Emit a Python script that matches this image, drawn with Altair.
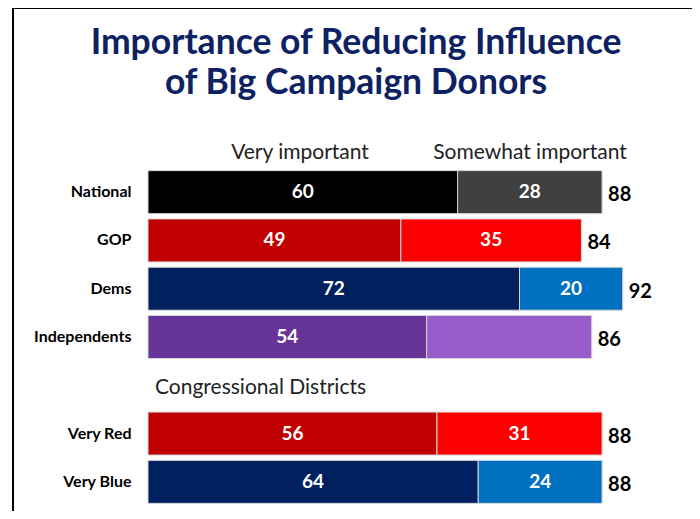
import altair as alt
import pandas as pd

# ---- data ----
categories = ["National", "GOP", "Dems", "Independents", "Very Red", "Very Blue"]
very = [60, 49, 72, 54, 56, 64]
somewhat = [28, 35, 20, 32, 31, 24]
total = [88, 84, 92, 86, 88, 88]
somewhat_labeled = [True, True, True, False, True, True]
very_colors = ["#000000", "#c00000", "#002060", "#663399", "#c00000", "#002060"]
some_colors = ["#404040", "#ff0000", "#0070c0", "#9b5ccb", "#ff0000", "#0070c0"]

row_order = ["National", "GOP", "Dems", "Independents", " ", "Very Red", "Very Blue"]

title_lines = ["Importance of Reducing Influence", "of Big Campaign Donors"]
headers = ["Very important", "Somewhat important"]
group_label = "Congressional Districts"

FONT = "Lato"

rows = []
for i, c in enumerate(categories):
    rows.append(dict(cat=c, seg="Very important", start=0, end=very[i],
                     mid=very[i] / 2, label=str(very[i]), color=very_colors[i]))
    rows.append(dict(cat=c, seg="Somewhat important", start=very[i], end=total[i],
                     mid=(very[i] + total[i]) / 2,
                     label=str(somewhat[i]) if somewhat_labeled[i] else "",
                     color=some_colors[i]))
seg_df = pd.DataFrame(rows)
tot_df = pd.DataFrame(dict(cat=categories, total=total, label=[str(t) for t in total]))

xscale = alt.Scale(domain=[0, 100])
yscale = alt.Scale(domain=row_order, paddingInner=0.11, paddingOuter=0.055)

base = alt.Chart(seg_df)

bars = base.mark_bar(stroke="#d6d6d6", strokeWidth=1).encode(
    x=alt.X("start:Q", scale=xscale, axis=None),
    x2="end:Q",
    y=alt.Y("cat:N", scale=yscale, sort=row_order,
            axis=alt.Axis(title=None, domain=False, ticks=False, labelFont=FONT,
                          labelFontSize=16, labelFontWeight="bold", labelColor="#000000",
                          labelPadding=17)),
    color=alt.Color("color:N", scale=None),
)

seg_text = base.mark_text(font=FONT, fontSize=19, fontWeight="bold", color="white",
                          baseline="middle").encode(
    x=alt.X("mid:Q", scale=xscale),
    y=alt.Y("cat:N", scale=yscale, sort=row_order),
    text="label:N",
)

tot_text = alt.Chart(tot_df).mark_text(font=FONT, fontSize=20, fontWeight="bold",
                                       color="#000000", align="left", baseline="middle",
                                       dx=6, dy=3).encode(
    x=alt.X("total:Q", scale=xscale),
    y=alt.Y("cat:N", scale=yscale, sort=row_order),
    text="label:N",
)

hdr_df = pd.DataFrame(dict(t=headers, px=[152, 382]))
hdr = alt.Chart(hdr_df).mark_text(font=FONT, fontSize=21, color="#222222",
                                  baseline="middle").encode(
    x=alt.X("px:Q", scale=None), y=alt.value(-15), text="t:N")

grp_df = pd.DataFrame(dict(t=[group_label], cat=[" "]))
grp = alt.Chart(grp_df).mark_text(font=FONT, fontSize=21, color="#222222",
                                  align="left", baseline="middle", dy=3).encode(
    x=alt.value(7), y=alt.Y("cat:N", scale=yscale, sort=row_order), text="t:N")

ttl_df = pd.DataFrame(dict(t=title_lines, py=[-125, -85]))
ttl = alt.Chart(ttl_df).mark_text(font=FONT, fontSize=35.5, fontWeight="bold",
                                  color="#0d2163", baseline="middle").encode(
    x=alt.value(208), y=alt.Y("py:Q", scale=None), text="t:N")

frame_left = alt.Chart(pd.DataFrame({"a": [0]})).mark_rule(color="#000000", strokeWidth=2).encode(
    x=alt.value(-135), y=alt.value(-160), y2=alt.value(360))
frame_top = alt.Chart(pd.DataFrame({"a": [0]})).mark_rule(color="#000000", strokeWidth=2).encode(
    x=alt.value(-135), x2=alt.value(549), y=alt.value(-160))
frame_right = alt.Chart(pd.DataFrame({"a": [0]})).mark_rule(color="#000000", strokeWidth=1.5).encode(
    x=alt.value(549), y=alt.value(-160), y2=alt.value(360))

chart = alt.layer(frame_left, frame_top, frame_right, bars, seg_text, tot_text, hdr, grp, ttl).properties(
    width=516, height=338,
    autosize=alt.AutoSizeParams(type="none"),
    padding={"left": 140, "top": 160, "right": 28, "bottom": 5},
).configure_view(stroke=None)

chart.save("out.html", embed_options={"renderer": "svg", "actions": False})
